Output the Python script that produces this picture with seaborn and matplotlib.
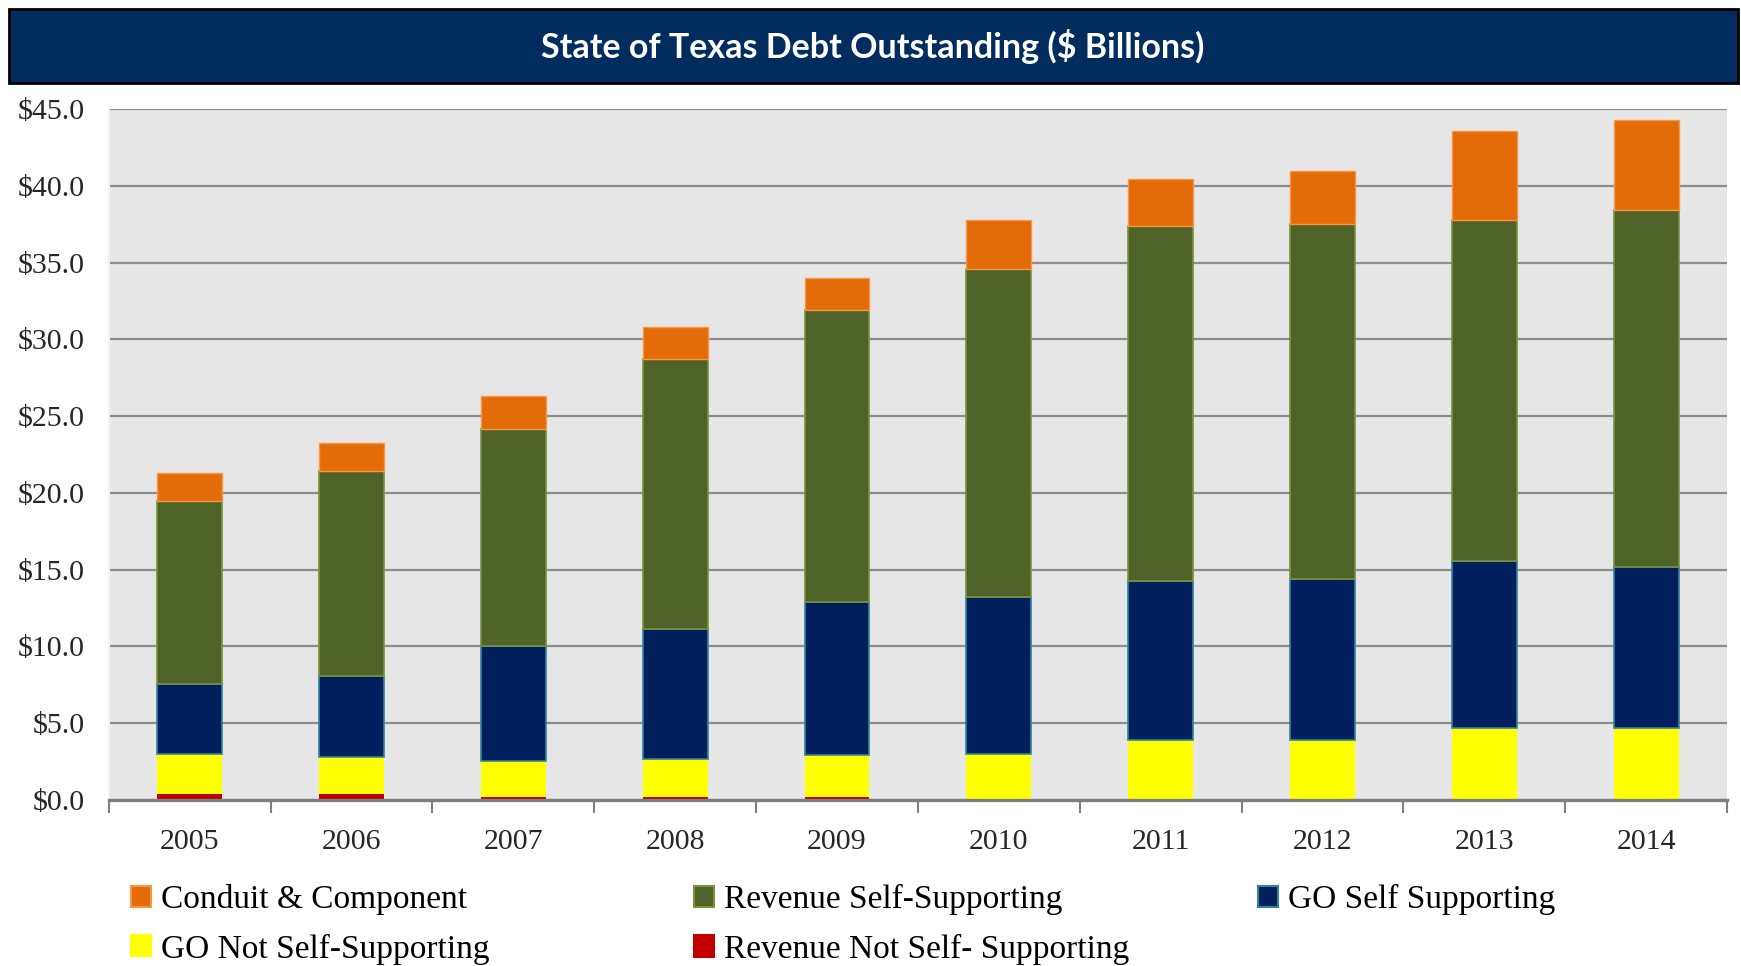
"""
State of Texas debt outstanding, stacked bars by debt type
"""
import numpy as np
import pandas as pd
import matplotlib
matplotlib.use("Agg")
import matplotlib.pyplot as plt
from matplotlib.patches import Patch, Rectangle
import seaborn as sns

# data ($ billions)
years = ["2005", "2006", "2007", "2008", "2009", "2010", "2011", "2012", "2013", "2014"]
rev_not_self = [0.35, 0.35, 0.2, 0.2, 0.2, 0.0, 0.0, 0.0, 0.0, 0.0]
go_not_self = [2.65, 2.45, 2.3, 2.45, 2.7, 2.98, 3.93, 3.93, 4.68, 4.68]
go_self = [4.55, 5.3, 7.55, 8.5, 10.0, 10.25, 10.3, 10.46, 10.87, 10.52]
rev_self = [11.9, 13.31, 14.13, 17.58, 19.01, 21.37, 23.14, 23.13, 22.23, 23.25]
conduit = [1.83, 1.83, 2.12, 2.09, 2.1, 3.2, 3.08, 3.48, 5.78, 5.85]

# stacking order bottom -> top: (label, values, fill, edge, edge width)
series = [
    ("Revenue Not Self- Supporting", rev_not_self, "#C00000", "#C00000", 0),
    ("GO Not Self-Supporting", go_not_self, "#FFFF00", "#FFFF00", 0),
    ("GO Self Supporting", go_self, "#001F5C", "#31859C", 1.2),
    ("Revenue Self-Supporting", rev_self, "#4F6228", "#77933C", 1.2),
    ("Conduit & Component", conduit, "#E36C09", "#F79646", 1.0),
]

df = pd.DataFrame({s[0]: s[1] for s in series}, index=years)

fig = plt.figure(figsize=(17.41, 9.66), dpi=100)
ax = fig.add_axes([0.0625, 0.172, 0.9295, 0.715])
ax.set_facecolor("#E6E6E6")

# stacked bars
bottom = np.zeros(len(years))
for name, vals, col, edge, lw in series:
    sns.barplot(x=years, y=df[name].values, bottom=bottom, color=col,
                edgecolor=edge, linewidth=lw, width=0.4, errorbar=None,
                saturation=1, ax=ax, zorder=3)
    bottom = bottom + df[name].values

ax.set_xlabel("")
ax.set_ylabel("")
ax.set_xlim(-0.5, len(years) - 0.5)
ax.set_ylim(0, 45)
ax.set_yticks(np.arange(0, 46, 5))
ax.set_yticklabels([f"${v:.1f}" for v in np.arange(0, 46, 5)])
ax.yaxis.grid(True, color="#8C8C8C", linewidth=1.6, zorder=0)
ax.set_axisbelow(True)

for s in ["top", "right"]:
    ax.spines[s].set_visible(False)
ax.spines["left"].set_color("#F2F2F2")
ax.spines["left"].set_linewidth(1.5)
ax.spines["bottom"].set_color("#808080")
ax.spines["bottom"].set_linewidth(2.4)
ax.spines["bottom"].set_zorder(4)

# ticks between categories
ax.set_xticks(np.arange(-0.5, len(years), 1.0), minor=True)
ax.tick_params(axis="x", which="minor", length=9, width=1.5, color="#808080")
ax.tick_params(axis="x", which="major", length=0, pad=21)
ax.tick_params(axis="y", length=0, pad=17)
for lab in ax.get_xticklabels() + ax.get_yticklabels():
    lab.set_fontfamily("Liberation Serif")
    lab.set_fontsize(21.5)
    lab.set_color("#262626")

# title bar
fig.patches.append(Rectangle((0.005, 0.914), 0.993, 0.077, transform=fig.transFigure,
                             facecolor="#002C5E", edgecolor="black", linewidth=2))
fig.text(0.501, 0.952, "State of Texas Debt Outstanding ($ Billions)", color="white",
         fontsize=24.5, fontweight="bold", family="Lato", ha="center", va="center")

# legend in three columns
info = {s[0]: (s[2], s[3]) for s in series}
columns = [
    (0.0753, ["Conduit & Component", "GO Not Self-Supporting"]),
    (0.3986, ["Revenue Self-Supporting", "Revenue Not Self- Supporting"]),
    (0.7226, ["GO Self Supporting"]),
]
for x0, names in columns:
    handles = [Patch(facecolor=info[n][0], edgecolor=info[n][1], linewidth=1.5, label=n)
               for n in names]
    fig.legend(handles=handles, loc="upper left", bbox_to_anchor=(x0, 0.085), frameon=False,
               borderpad=0, borderaxespad=0, handlelength=0.6, handleheight=0.6,
               handletextpad=0.3, labelspacing=0.56,
               prop={"family": "Liberation Serif", "size": 24})

fig.savefig("out.png", dpi=100)
